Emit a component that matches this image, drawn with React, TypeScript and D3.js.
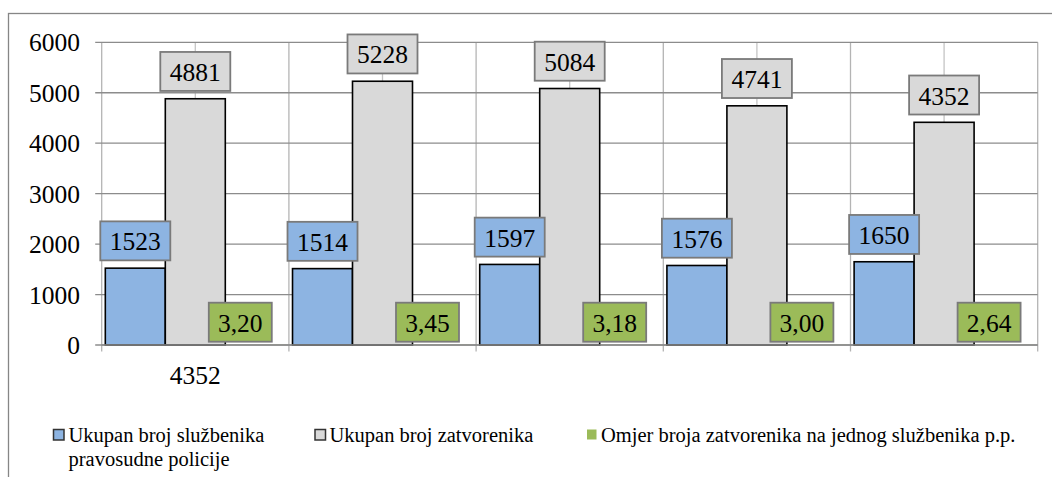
import React from "react";
import * as d3 from "d3";

const categoryLabels = ["4352", "", "", "", ""];
const officers = [1523, 1514, 1597, 1576, 1650];
const prisoners = [4881, 5228, 5084, 4741, 4414];
const prisonerLabels = ["4881", "5228", "5084", "4741", "4352"];
const ratio = [3.2, 3.45, 3.18, 3.0, 2.64];
const yTicks = [0, 1000, 2000, 3000, 4000, 5000, 6000];
const seriesNames = [
  ["Ukupan broj službenika", "pravosudne policije"],
  ["Ukupan broj zatvorenika"],
  ["Omjer broja zatvorenika na jednog službenika p.p."],
];

const W = 1052;
const H = 477;
const colors = ["#8DB4E2", "#D9D9D9", "#9BBB59"];

const plot = { left: 101.7, right: 1037.7, top: 42.3, bottom: 345 };

function T({ x, y, size, anchor = "middle", children }: any) {
  return (
    <text
      x={x}
      y={y}
      textAnchor={anchor}
      fontFamily="Liberation Serif"
      style={{ fontFamily: `"Liberation Serif"`, fontSize: size }}
      fill="#000"
    >
      {children}
    </text>
  );
}

export default function App() {
  const idx = d3.range(categoryLabels.length);
  const x = d3.scaleBand<number>().domain(idx).range([plot.left, plot.right]).padding(0);
  const bw = x.bandwidth();
  const inner = d3
    .scaleBand<number>()
    .domain([0, 1, 2])
    .range([bw * 0.0193, bw * 0.9807])
    .padding(0);
  const y = d3.scaleLinear().domain([0, 6000]).range([plot.bottom, plot.top]);

  const series = [officers, prisoners, ratio];
  const fmtRatio = (v: number) => d3.format(".2f")(v).replace(".", ",");
  const labelText = (s: number, i: number) =>
    s === 0 ? String(officers[i]) : s === 1 ? prisonerLabels[i] : fmtRatio(ratio[i]);

  return (
    <svg
      width={W}
      height={H}
      fontFamily="Liberation Serif"
      style={{ position: "absolute", left: 0, top: 0, fontFamily: `"Liberation Serif"` }}
    >
      <rect x={8.5} y={13.5} width={1100} height={600} fill="#fff" stroke="#868686" strokeWidth={1.3} />

      {idx.map((i) => (
        <line
          key={"vc" + i}
          x1={x(i)! + bw / 2}
          x2={x(i)! + bw / 2}
          y1={plot.top}
          y2={plot.bottom}
          stroke="#C4C4C4"
          strokeWidth={1.3}
        />
      ))}
      {d3.range(categoryLabels.length + 1).map((i) => {
        const xx = plot.left + i * bw;
        return (
          <line key={"vb" + i} x1={xx} x2={xx} y1={plot.top} y2={plot.bottom + 6.5} stroke="#B4B4B4" strokeWidth={1.3} />
        );
      })}
      {yTicks.map((t) => (
        <line key={"h" + t} x1={plot.left - 6.5} x2={plot.right} y1={y(t)} y2={y(t)} stroke="#8C8C8C" strokeWidth={1.3} />
      ))}
      {yTicks.map((t) => (
        <T key={"yl" + t} x={80} y={y(t) + 9} size={25.5} anchor="end">
          {String(t)}
        </T>
      ))}

      {series.map((vals, s) =>
        vals.map((v, i) => {
          const bx = x(i)! + inner(s)!;
          const top = y(v);
          return (
            <rect
              key={`b${s}-${i}`}
              x={bx}
              y={top}
              width={inner.bandwidth()}
              height={Math.max(0, plot.bottom - top)}
              fill={colors[s]}
              stroke={s === 2 ? "none" : "#000"}
              strokeWidth={1.6}
            />
          );
        })
      )}
      <line x1={plot.left} x2={plot.right} y1={plot.bottom} y2={plot.bottom} stroke="#8C8C8C" strokeWidth={1.3} />

      {series.map((vals, s) =>
        vals.map((v, i) => {
          const cx = x(i)! + inner(s)! + inner.bandwidth() / 2 + (s === 2 ? -15 : 0);
          const bwid = s === 2 ? 63 : 70;
          const bh = 39;
          const bottom = s === 2 ? plot.bottom - 3.3 : y(v) - 7.8;
          return (
            <g key={`l${s}-${i}`}>
              <rect
                x={cx - bwid / 2}
                y={bottom - bh}
                width={bwid}
                height={bh}
                fill={colors[s]}
                stroke="#7A7A7A"
                strokeWidth={1.8}
              />
              <T x={cx} y={bottom - 10} size={25.5}>
                {labelText(s, i)}
              </T>
            </g>
          );
        })
      )}

      {idx.map((i) => (
        <T key={"cl" + i} x={x(i)! + bw / 2} y={384} size={25.5}>
          {categoryLabels[i]}
        </T>
      ))}

      {[
        { sx: 53.5, tx: 68.5 },
        { sx: 315, tx: 329.5 },
        { sx: 587, tx: 601 },
      ].map((p, s) => (
        <g key={"lg" + s}>
          <rect
            x={p.sx}
            y={429.5}
            width={s === 2 ? 9.5 : 10.5}
            height={s === 2 ? 10 : 10.5}
            fill={colors[s]}
            stroke={s === 2 ? "none" : "#333"}
            strokeWidth={1.5}
          />
          {seriesNames[s].map((line, k) => (
            <T key={k} x={p.tx} y={441.5 + k * 24.5} size={20.5} anchor="start">
              {line}
            </T>
          ))}
        </g>
      ))}
    </svg>
  );
}
